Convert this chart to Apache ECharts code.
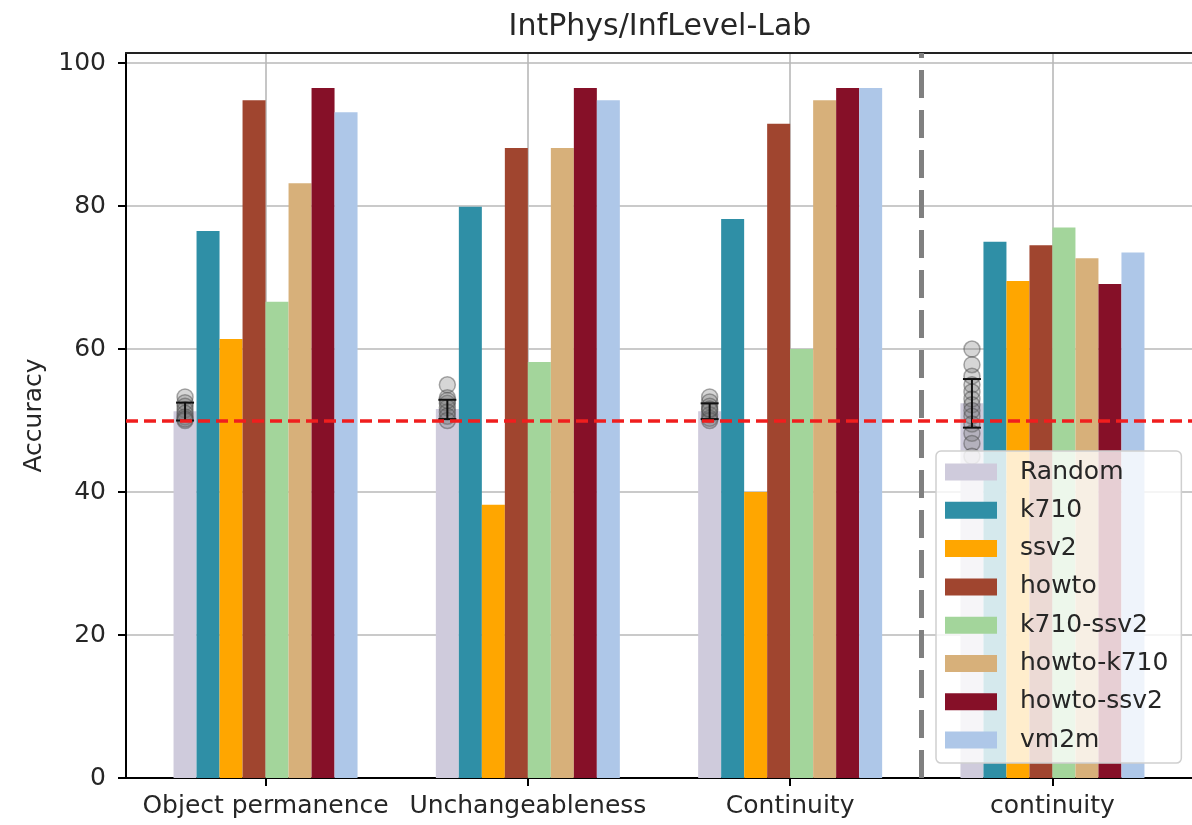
<!DOCTYPE html>
<html><head><meta charset="utf-8">
<script src="https://cdn.jsdelivr.net/npm/echarts@6/dist/echarts.min.js"></script>
<style>html,body{margin:0;padding:0;background:#fff}#c{width:1192px;height:825px}</style>
</head><body><div id="c"></div>
<script>
// ---- data ----
const categories = ['Object permanence', 'Unchangeableness', 'Continuity', 'continuity'];
const seriesNames = ['Random', 'k710', 'ssv2', 'howto', 'k710-ssv2', 'howto-k710', 'howto-ssv2', 'vm2m'];
const randomVals    = [51.3, 51.6, 51.3, 52.4];
const k710Vals      = [76.5, 79.9, 78.2, 75.0];
const ssv2Vals      = [61.4, 38.2, 40.0, 69.5];
const howtoVals     = [94.8, 88.1, 91.5, 74.5];
const k710ssv2Vals  = [66.6, 58.2, 60.0, 77.0];
const howtoK710Vals = [83.2, 88.1, 94.8, 72.7];
const howtoSsv2Vals = [96.5, 96.5, 96.5, 69.1];
const vm2mVals      = [93.1, 94.8, 96.5, 73.5];
// individual random-seed runs per category
const randomRuns0 = [53.3, 52.5, 52.0, 51.5, 51.0, 50.5, 50.0, 50.2];
const randomRuns1 = [55.0, 53.2, 52.4, 51.8, 51.2, 50.6, 50.0, 52.8];
const randomRuns2 = [53.3, 52.6, 52.0, 51.4, 50.8, 50.3, 50.0, 51.6];
const randomRuns3 = [60.0, 57.8, 56.2, 55.0, 54.0, 53.0, 52.2, 51.4, 50.6, 49.5, 48.2, 46.8, 45.0];
// error bar ranges [low, high] per category
const randomErrLow  = [50.0, 50.2, 50.2, 49.0];
const randomErrHigh = [52.5, 52.9, 52.4, 55.8];
const yTicks = [0, 20, 40, 60, 80, 100];
const chanceLevel = 50;
const splitAt = 2.5;

// ---- style ----
const palette = ['#cfcbdc', '#2f8fa6', '#ffa600', '#a0452f', '#a3d59b', '#d7b07a', '#861028', '#aec7e8'];
const FONT = 'DejaVu Sans';
const BAR_W = 23;
const randomOffsetPx = -(seriesNames.length / 2 - 0.5) * BAR_W;

const allVals = [randomVals, k710Vals, ssv2Vals, howtoVals, k710ssv2Vals, howtoK710Vals, howtoSsv2Vals, vm2mVals];
const randomRuns = [randomRuns0, randomRuns1, randomRuns2, randomRuns3];
const catIdx = categories.map((c, i) => i);

const barSeries = seriesNames.map((name, i) => ({
  name, type: 'bar', xAxisIndex: 0, yAxisIndex: 0,
  data: allVals[i].map((v, g) => [g, v]),
  barWidth: BAR_W, barGap: '0%',
  itemStyle: { color: palette[i] },
  emphasis: { disabled: true },
  z: 2
}));

const pointsSeries = {
  name: 'randomRuns', type: 'custom', xAxisIndex: 0, yAxisIndex: 0, z: 3, silent: true,
  data: randomRuns.flatMap((arr, g) => arr.map(v => [g, v])),
  encode: { x: 0, y: 1 },
  renderItem: (params, api) => {
    const p = api.coord([api.value(0), api.value(1)]);
    return { type: 'circle', shape: { cx: p[0] + randomOffsetPx, cy: p[1], r: 8 },
      style: { fill: 'rgba(120,120,120,0.30)', stroke: 'rgba(70,70,70,0.45)', lineWidth: 1.5 } };
  },
  markLine: {
    silent: true, symbol: ['none', 'none'], z: 5,
    label: { show: false },
    emphasis: { disabled: true },
    data: [
      { yAxis: chanceLevel, lineStyle: { color: '#f01e1e', width: 3.5, type: [12, 6] } },
      { xAxis: splitAt, lineStyle: { color: '#808080', width: 5, type: [28, 12] } }
    ]
  }
};

const errSeries = {
  name: 'randomErr', type: 'custom', xAxisIndex: 0, yAxisIndex: 0, z: 4, silent: true,
  data: catIdx.map(g => [g, randomErrLow[g], randomErrHigh[g]]),
  encode: { x: 0, y: [1, 2] },
  renderItem: (params, api) => {
    const lo = api.coord([api.value(0), api.value(1)]);
    const hi = api.coord([api.value(0), api.value(2)]);
    const x = lo[0] + randomOffsetPx;
    const st = { stroke: '#111', lineWidth: 2 };
    return { type: 'group', children: [
      { type: 'line', shape: { x1: x, y1: lo[1], x2: x, y2: hi[1] }, style: st },
      { type: 'line', shape: { x1: x - 9, y1: lo[1], x2: x + 9, y2: lo[1] }, style: st },
      { type: 'line', shape: { x1: x - 9, y1: hi[1], x2: x + 9, y2: hi[1] }, style: st }
    ] };
  }
};

const XMIN = -0.532, XMAX = 3.532;
const chart = echarts.init(document.getElementById('c'), null, { renderer: 'canvas' });
chart.setOption({
  animation: false,
  backgroundColor: '#fff',
  textStyle: { fontFamily: FONT },
  title: {
    text: 'IntPhys/InfLevel-Lab', left: 660, top: 12, textAlign: 'center', padding: 0,
    textStyle: { fontSize: 30, fontWeight: 'normal', color: '#262626', fontFamily: FONT }
  },
  grid: { left: 126, top: 53, right: -3, bottom: 47, containLabel: false },
  legend: {
    data: seriesNames, orient: 'vertical', left: 936, top: 451,
    padding: [8.5, 13, 10.5, 9], itemWidth: 52, itemHeight: 17, itemGap: 13.3, icon: 'rect',
    backgroundColor: 'rgba(255,255,255,0.8)', borderColor: '#cfcfcf', borderWidth: 1.5, borderRadius: 5,
    textStyle: { fontSize: 25, color: '#262626', fontFamily: FONT, padding: [0, 0, 0, 18] },
    selectedMode: false, z: 10
  },
  xAxis: [{
    type: 'value', min: XMIN, max: XMAX,
    axisLine: { show: true, onZero: false, lineStyle: { color: '#000', width: 2 } },
    axisTick: { show: true, length: 8, customValues: catIdx, lineStyle: { color: '#000', width: 2 } },
    axisLabel: { customValues: catIdx, formatter: v => categories[Math.round(v)], fontSize: 25, color: '#262626', margin: 16, fontFamily: FONT },
    splitLine: { show: true, lineStyle: { color: '#b8b8b8', width: 1.6 } }
  }, {
    type: 'value', min: XMIN, max: XMAX, position: 'top',
    axisLine: { show: true, onZero: false, lineStyle: { color: '#222', width: 2 } },
    axisTick: { show: false }, axisLabel: { show: false }, splitLine: { show: false }
  }],
  yAxis: {
    type: 'value', min: 0, max: 101.4, interval: 20,
    name: 'Accuracy', nameLocation: 'middle', nameGap: 74,
    nameTextStyle: { fontSize: 25, color: '#262626', fontFamily: FONT },
    axisLine: { show: true, onZero: false, lineStyle: { color: '#000', width: 2 } },
    axisTick: { show: true, length: 8, customValues: yTicks, lineStyle: { color: '#000', width: 2 } },
    axisLabel: { customValues: yTicks, fontSize: 25, color: '#262626', margin: 20, fontFamily: FONT },
    splitLine: { show: true, lineStyle: { color: '#b8b8b8', width: 1.6 } }
  },
  series: [...barSeries, pointsSeries, errSeries]
});
</script></body></html>
